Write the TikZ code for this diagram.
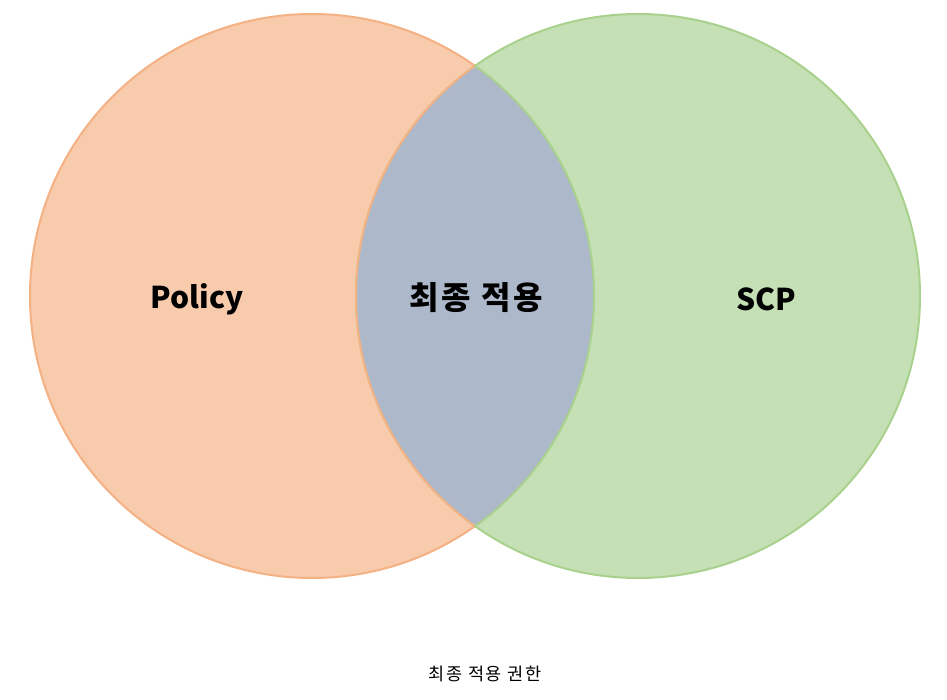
\documentclass[tikz,border=0pt]{standalone}
\usepackage{fontspec}
\setmainfont{Noto Sans CJK KR}
\newfontfamily\kr{Noto Sans CJK KR}
\newfontfamily\krsp[LetterSpace=9]{Noto Sans CJK KR}
\begin{document}
\begin{tikzpicture}[x=1pt,y=-1pt,
  setL/.style={circle,minimum size=564pt,inner sep=0pt,fill=orangeF,draw=orangeD,line width=2pt},
  setR/.style={circle,minimum size=564pt,inner sep=0pt,fill=greenF,draw=greenD,line width=2pt},
  lbl/.style={font=\kr\bfseries\fontsize{30}{34}\selectfont,text=black},
  lblk/.style={font=\krsp\bfseries\fontsize{32}{36}\selectfont,text=black},
  captext/.style={font=\krsp\fontsize{17.5}{20}\selectfont,text=black}]
\definecolor{orangeF}{HTML}{F8CBAD}
\definecolor{orangeD}{HTML}{F4B183}
\definecolor{greenF}{HTML}{C5E0B4}
\definecolor{greenD}{HTML}{A9D18E}
\definecolor{lensF}{HTML}{ADB9CA}
\useasboundingbox (0,0) rectangle (947,700);
\node[setL] (L) at (312,296) {};
\node[setR] (R) at (638,296) {};
\begin{scope}
  \clip (312,296) circle (282pt);
  \fill[lensF] (638,296) circle (282pt);
\end{scope}
\begin{scope}
  \clip (312,296) circle (282pt);
  \draw[orangeD,line width=2pt] (638,296) circle (282pt);
\end{scope}
\begin{scope}
  \clip (638,296) circle (282pt);
  \draw[greenD,line width=2pt] (312,296) circle (282pt);
\end{scope}
\node[lbl] (p) at (197,299) {Policy};
\node[lblk] (m) at (476,298) {최종 적용};
\node[lbl] (s) at (766,299) {SCP};
\node[captext] (c) at (485,674) {최종 적용 권한};
\end{tikzpicture}
\end{document}
